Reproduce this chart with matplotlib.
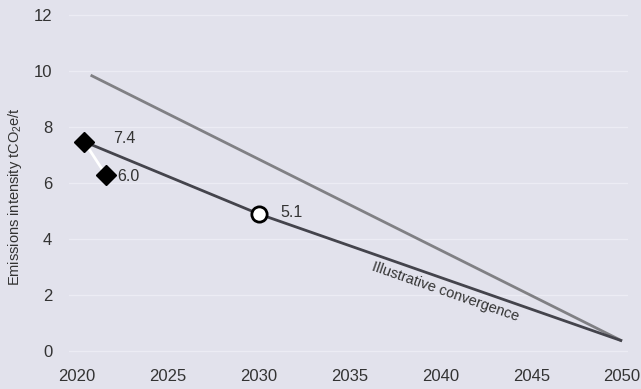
import matplotlib
matplotlib.use('Agg')
import matplotlib.pyplot as plt

plt.rcParams['font.family'] = ['Liberation Sans', 'DejaVu Sans']
plt.rcParams['mathtext.default'] = 'regular'

# reported points (diamonds)
reported_x = [2020.4, 2021.6]
reported_y = [7.47, 6.27]
reported_labels = ['7.4', '6.0']

# illustrative convergence path (dark line)
conv_x = [2020.4, 2030, 2050]
conv_y = [7.47, 4.89, 0.35]
target_x = 2030
target_y = 4.89
target_label = '5.1'

# upper pathway (grey line)
upper_x = [2020.75, 2050]
upper_y = [9.85, 0.35]

xticks = [2020, 2025, 2030, 2035, 2040, 2045, 2050]
yticks = [0, 2, 4, 6, 8, 10, 12]

bg = '#e2e2ec'
text_col = '#333333'

fig = plt.figure(figsize=(6.41, 3.89), dpi=100, facecolor=bg)
ax = fig.add_axes([68.8 / 641, 1 - 356.3 / 389, 558.7 / 641, 344.1 / 389])
ax.set_facecolor(bg)

ax.plot(upper_x, upper_y, color='#808084', lw=2, solid_capstyle='butt', zorder=2)
ax.plot(conv_x, conv_y, color='#44444c', lw=2, solid_capstyle='butt', zorder=3)
ax.plot(reported_x, reported_y, color='white', lw=2, zorder=3)
ax.plot(reported_x, reported_y, linestyle='none', marker='D', ms=10,
        color='black', zorder=5)
ax.plot([target_x], [target_y], linestyle='none', marker='o', ms=11,
        markerfacecolor='white', markeredgecolor='black', markeredgewidth=2, zorder=5)

ax.text(reported_x[0] + 1.6, reported_y[0] + 0.1, reported_labels[0],
        fontsize=11.5, color=text_col, va='center', ha='left')
ax.text(reported_x[1] + 0.6, reported_y[1] - 0.05, reported_labels[1],
        fontsize=11.5, color=text_col, va='center', ha='left')
ax.text(target_x + 1.2, target_y + 0.05, target_label,
        fontsize=11.5, color=text_col, va='center', ha='left')
ax.text(2040.3, 2.1, 'Illustrative convergence', fontsize=10.5, color=text_col,
        rotation=-19.2, rotation_mode='anchor', ha='center', va='center')

ax.set_xlim(2019.55, 2050.3)
ax.set_ylim(-0.2, 12.1)
ax.set_xticks(xticks)
ax.set_yticks(yticks)
ax.tick_params(length=0, labelsize=12, labelcolor=text_col)
ax.tick_params(axis='y', pad=12)
ax.tick_params(axis='x', pad=9)
ax.grid(axis='y', color='#ececf4', lw=1)
ax.set_axisbelow(True)
for s in ax.spines.values():
    s.set_visible(False)

ax.set_ylabel('Emissions intensity tCO$_2$e/t', fontsize=10.5, color=text_col)
ax.yaxis.set_label_coords(-(69 - 24) / 558.7, 0.464)

fig.savefig('out.png', dpi=100, facecolor=bg)
